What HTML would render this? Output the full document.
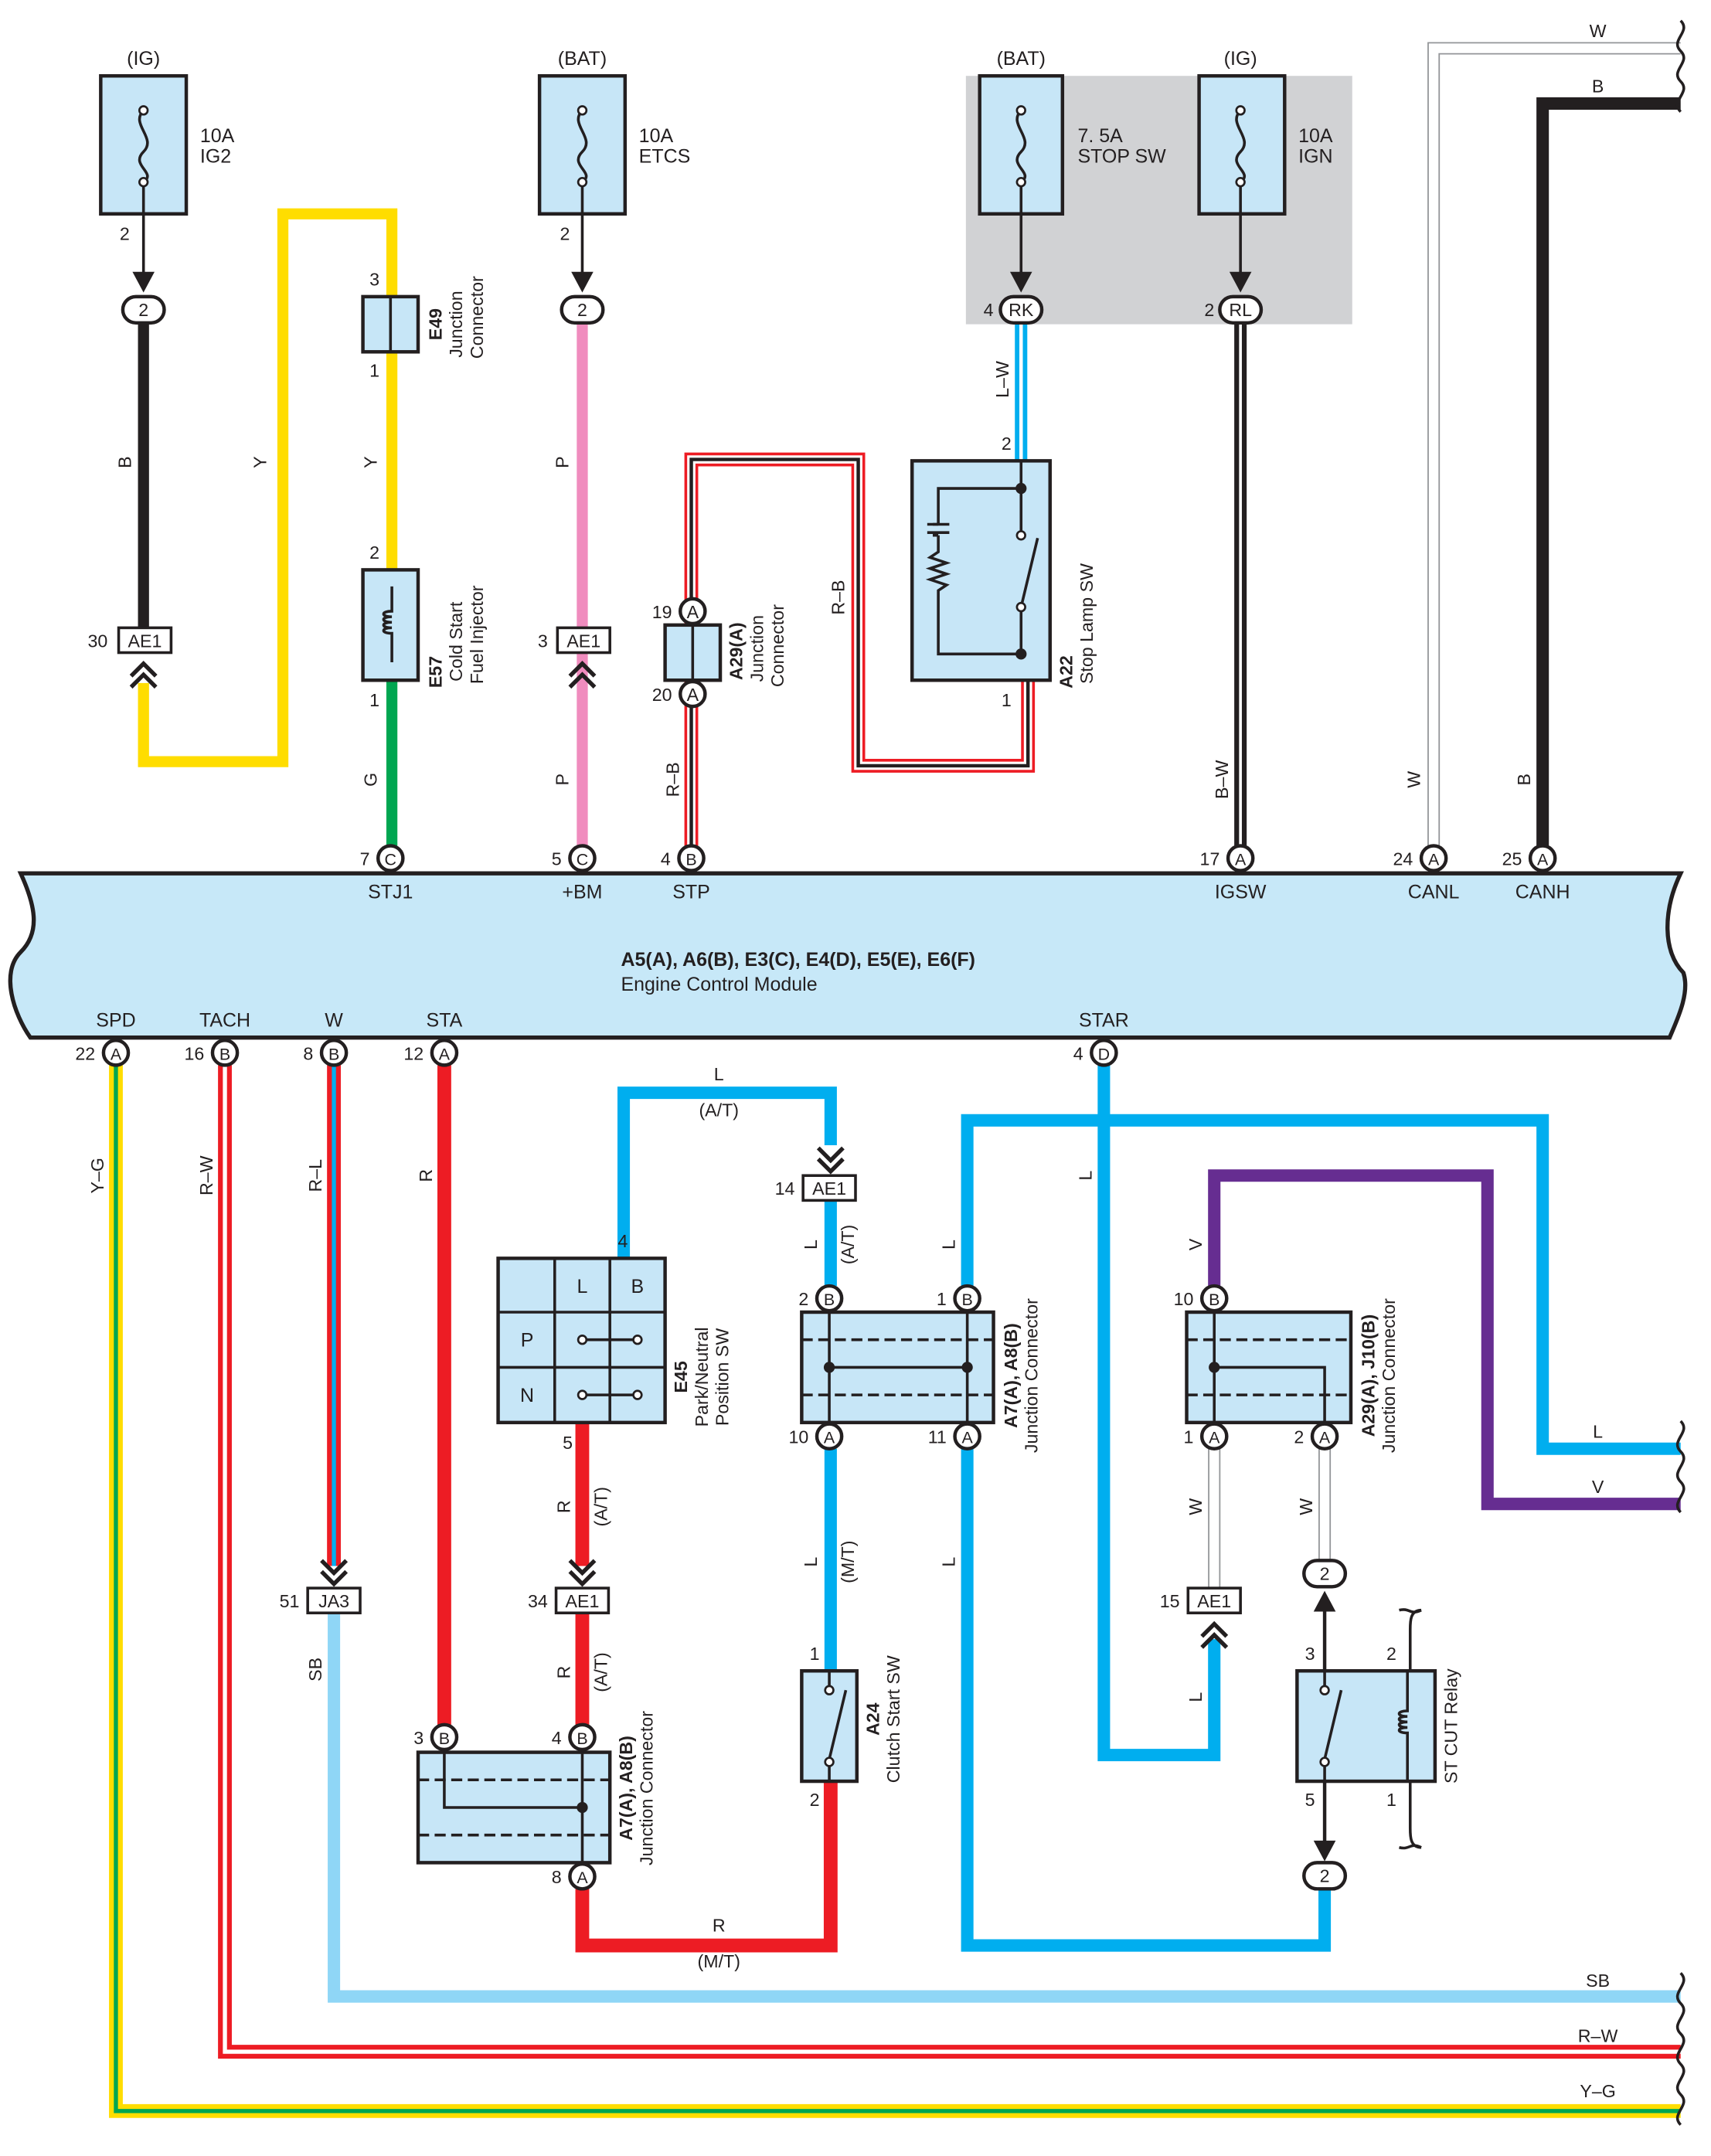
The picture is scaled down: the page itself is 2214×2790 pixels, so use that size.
<!DOCTYPE html>
<html><head><meta charset="utf-8"><style>
html,body{margin:0;padding:0;background:#fff}
svg{display:block}
text{font-family:"Liberation Sans",sans-serif;fill:#231f20}
</style></head><body>
<svg width="2214" height="2790" viewBox="0 0 1240 1562.6" xmlns="http://www.w3.org/2000/svg">
<defs>
<g id="chev"><polyline points="-9,-14 0,-5 9,-14" fill="none" stroke="#231f20" stroke-width="3"/><polyline points="-9,-6 0,3 9,-6" fill="none" stroke="#231f20" stroke-width="3"/></g>
<g id="chevu"><polyline points="-9,14 0,5 9,14" fill="none" stroke="#231f20" stroke-width="3"/><polyline points="-9,6 0,-3 9,6" fill="none" stroke="#231f20" stroke-width="3"/></g>
</defs>
<g font-size="13">
<!-- gray region -->
<rect x="700" y="55" width="280" height="180" fill="#d1d2d4"/>

<!-- ===== TOP WIRES ===== -->
<!-- IG2 black -->
<line x1="104" y1="234" x2="104" y2="455" stroke="#231f20" stroke-width="8"/>
<!-- yellow -->
<polyline points="104,495 104,552 205,552 205,155 284,155 284,413" fill="none" stroke="#ffdd00" stroke-width="8"/>
<line x1="284" y1="493" x2="284" y2="613" stroke="#00a651" stroke-width="8"/>
<!-- pink -->
<line x1="422" y1="234" x2="422" y2="613" stroke="#f08cbe" stroke-width="8"/>
<!-- R-B -->
<g fill="none">
<polyline points="501,613 501,333 622,333 622,555 745,555 745,493" stroke="#ed1c24" stroke-width="10"/>
<polyline points="501,613 501,333 622,333 622,555 745,555 745,493" stroke="#fff" stroke-width="6"/>
<polyline points="501,613 501,333 622,333 622,555 745,555 745,493" stroke="#231f20" stroke-width="2.5"/>
</g>
<!-- L-W -->
<line x1="740" y1="234" x2="740" y2="334" stroke="#00aeef" stroke-width="9"/>
<line x1="740" y1="234" x2="740" y2="334" stroke="#fff" stroke-width="2.5"/>
<!-- B-W -->
<line x1="899" y1="234" x2="899" y2="613" stroke="#231f20" stroke-width="9"/>
<line x1="899" y1="234" x2="899" y2="613" stroke="#fff" stroke-width="2"/>
<!-- W -->
<polyline points="1039,613 1039,35 1218,35" fill="none" stroke="#939598" stroke-width="9"/>
<polyline points="1039,613 1039,35 1218,35" fill="none" stroke="#fff" stroke-width="7"/>
<!-- B -->
<polyline points="1118,613 1118,75 1218,75" fill="none" stroke="#231f20" stroke-width="9"/>

<!-- fuses -->
<g stroke="#231f20" stroke-width="2.5" fill="#c7e6f7">
<rect x="73" y="55" width="62" height="100"/><rect x="391" y="55" width="62" height="100"/>
<rect x="710" y="55" width="60" height="100"/><rect x="869" y="55" width="62" height="100"/>
</g>
<g stroke="#231f20" stroke-width="2" fill="none">
<path d="M104,80 c-10,10 10,20 0,30 c-10,10 10,15 0,22 M104,132 V205"/>
<path d="M422,80 c-10,10 10,20 0,30 c-10,10 10,15 0,22 M422,132 V205"/>
<path d="M740,80 c-10,10 10,20 0,30 c-10,10 10,15 0,22 M740,132 V205"/>
<path d="M899,80 c-10,10 10,20 0,30 c-10,10 10,15 0,22 M899,132 V205"/>
</g>
<g fill="#fff" stroke="#231f20" stroke-width="1.5"><circle cx="104" cy="80" r="3"/><circle cx="104" cy="132" r="3"/><circle cx="422" cy="80" r="3"/><circle cx="422" cy="132" r="3"/><circle cx="740" cy="80" r="3"/><circle cx="740" cy="132" r="3"/><circle cx="899" cy="80" r="3"/><circle cx="899" cy="132" r="3"/></g>
<g fill="#231f20"><path d="M96,197 L104,212 L112,197 Z"/><path d="M414,197 L422,212 L430,197 Z"/><path d="M732,197 L740,212 L748,197 Z"/><path d="M891,197 L899,212 L907,197 Z"/></g>
<!-- oval connectors top -->
<g fill="#fff" stroke="#231f20" stroke-width="2.5"><rect x="89" y="215" width="30" height="19" rx="9.5"/><rect x="407" y="215" width="30" height="19" rx="9.5"/><rect x="725" y="215" width="30" height="19" rx="9.5"/><rect x="884" y="215" width="30" height="19" rx="9.5"/></g>
<text x="104" y="229" text-anchor="middle">2</text><text x="422" y="229" text-anchor="middle">2</text><text x="740" y="229" text-anchor="middle">RK</text><text x="899" y="229" text-anchor="middle">RL</text>
<text x="104" y="47" text-anchor="middle" font-size="14">(IG)</text><text x="422" y="47" text-anchor="middle" font-size="14">(BAT)</text><text x="740" y="47" text-anchor="middle" font-size="14">(BAT)</text><text x="899" y="47" text-anchor="middle" font-size="14">(IG)</text>
<text x="145" y="103" font-size="14">10A</text><text x="145" y="118" font-size="14">IG2</text>
<text x="463" y="103" font-size="14">10A</text><text x="463" y="118" font-size="14">ETCS</text>
<text x="781" y="103" font-size="14">7. 5A</text><text x="781" y="118" font-size="14">STOP SW</text>
<text x="941" y="103" font-size="14">10A</text><text x="941" y="118" font-size="14">IGN</text>
<text x="94" y="174" text-anchor="end">2</text><text x="413" y="174" text-anchor="end">2</text>
<text x="720" y="229" text-anchor="end">4</text><text x="880" y="229" text-anchor="end">2</text>

<!-- AE1 top -->
<g fill="#fff" stroke="#231f20" stroke-width="2"><rect x="86" y="455" width="38" height="18"/><rect x="404" y="455" width="38" height="18"/></g>
<text x="105" y="469" text-anchor="middle">AE1</text><text x="423" y="469" text-anchor="middle">AE1</text>
<text x="78" y="469" text-anchor="end">30</text><text x="397" y="469" text-anchor="end">3</text>
<use href="#chevu" x="104" y="484"/><use href="#chevu" x="422" y="484"/>

<!-- E49 -->
<rect x="263" y="215" width="40" height="40" fill="#c7e6f7" stroke="#231f20" stroke-width="2.5"/>
<line x1="283" y1="215" x2="283" y2="255" stroke="#231f20" stroke-width="2"/>
<text x="275" y="207" text-anchor="end">3</text><text x="275" y="273" text-anchor="end">1</text>
<!-- E57 -->
<rect x="263" y="413" width="40" height="80" fill="#c7e6f7" stroke="#231f20" stroke-width="2.5"/>
<path d="M284,425 V443 c-8,0 -8,4 0,4 c-8,0 -8,4 0,4 c-8,0 -8,4 0,4 c-8,0 -8,4 0,4 V480" fill="none" stroke="#231f20" stroke-width="2"/>
<text x="275" y="405" text-anchor="end">2</text><text x="275" y="512" text-anchor="end">1</text>
<!-- A29(A) -->
<rect x="482" y="453" width="40" height="40" fill="#c7e6f7" stroke="#231f20" stroke-width="2.5"/>
<line x1="502" y1="453" x2="502" y2="493" stroke="#231f20" stroke-width="2"/>
<!-- Stop lamp SW -->
<rect x="661" y="334" width="100" height="159" fill="#c7e6f7" stroke="#231f20" stroke-width="2.5"/>
<g fill="none" stroke="#231f20" stroke-width="2">
<path d="M740,334 V354 H680 V380 M740,354 V388 M740,440 V474 H680 V445 M740,440 L752,390 M680,380 H676 M680,388 H676"/>
<path d="M672,380 H688 M672,386 H688 M680,388 V400 l-6,4 l12,4 l-12,4 l12,4 l-12,4 l12,4 l-6,4 V445"/>
</g>
<g fill="#231f20"><circle cx="740" cy="354" r="4"/><circle cx="740" cy="474" r="4"/></g>
<g fill="#fff" stroke="#231f20" stroke-width="1.5"><circle cx="740" cy="388" r="3"/><circle cx="740" cy="440" r="3"/></g>
<text x="733" y="326" text-anchor="end">2</text><text x="733" y="512" text-anchor="end">1</text>

<!-- vertical labels top -->
<g font-size="13">
<text transform="translate(95,335) rotate(-90)" text-anchor="middle">B</text>
<text transform="translate(193,335) rotate(-90)" text-anchor="middle">Y</text>
<text transform="translate(273,335) rotate(-90)" text-anchor="middle">Y</text>
<text transform="translate(273,565) rotate(-90)" text-anchor="middle">G</text>
<text transform="translate(412,335) rotate(-90)" text-anchor="middle">P</text>
<text transform="translate(412,565) rotate(-90)" text-anchor="middle">P</text>
<text transform="translate(492,565) rotate(-90)" text-anchor="middle">R–B</text>
<text transform="translate(612,433) rotate(-90)" text-anchor="middle">R–B</text>
<text transform="translate(731,275) rotate(-90)" text-anchor="middle">L–W</text>
<text transform="translate(890,565) rotate(-90)" text-anchor="middle">B–W</text>
<text transform="translate(1029,565) rotate(-90)" text-anchor="middle">W</text>
<text transform="translate(1109,565) rotate(-90)" text-anchor="middle">B</text>
<text transform="translate(320,235) rotate(-90)" text-anchor="middle" font-weight="bold">E49</text>
<text transform="translate(335,235) rotate(-90)" text-anchor="middle">Junction</text>
<text transform="translate(350,230) rotate(-90)" text-anchor="middle">Connector</text>
<text transform="translate(320,487) rotate(-90)" text-anchor="middle" font-weight="bold">E57</text>
<text transform="translate(335,465) rotate(-90)" text-anchor="middle">Cold Start</text>
<text transform="translate(350,460) rotate(-90)" text-anchor="middle">Fuel Injector</text>
<text transform="translate(538,472) rotate(-90)" text-anchor="middle" font-weight="bold">A29(A)</text>
<text transform="translate(553,470) rotate(-90)" text-anchor="middle">Junction</text>
<text transform="translate(568,468) rotate(-90)" text-anchor="middle">Connector</text>
<text transform="translate(777,487) rotate(-90)" text-anchor="middle" font-weight="bold">A22</text>
<text transform="translate(792,452) rotate(-90)" text-anchor="middle">Stop Lamp SW</text>
</g>
<g fill="#fff" stroke="#231f20" stroke-width="2.5"><circle cx="502" cy="443" r="9"/><circle cx="502" cy="503" r="9"/></g>
<text x="502" y="448" text-anchor="middle">A</text><text x="502" y="508" text-anchor="middle">A</text>
<text x="487" y="448" text-anchor="end">19</text><text x="487" y="508" text-anchor="end">20</text>

<!-- ===== ECM ===== -->
<path d="M15,633 H1218 C1205,660 1205,690 1220,705 C1225,720 1215,740 1210,752 H22 C10,735 0,705 15,690 C30,675 25,655 15,633 Z" fill="#c7e8f8" stroke="#231f20" stroke-width="3"/>
<text x="450" y="700" font-size="14" font-weight="bold">A5(A), A6(B), E3(C), E4(D), E5(E), E6(F)</text>
<text x="450" y="718" font-size="14">Engine Control Module</text>
<g font-size="14" text-anchor="middle">
<text x="283" y="651">STJ1</text><text x="422" y="651">+BM</text><text x="501" y="651">STP</text><text x="899" y="651">IGSW</text><text x="1039" y="651">CANL</text><text x="1118" y="651">CANH</text>
<text x="84" y="744">SPD</text><text x="163" y="744">TACH</text><text x="242" y="744">W</text><text x="322" y="744">STA</text><text x="800" y="744">STAR</text>
</g>

<!-- ===== BOTTOM WIRES ===== -->
<g fill="none">
<polyline points="84,772 84,1530 1218,1530" stroke="#ffdd00" stroke-width="10"/>
<polyline points="84,772 84,1530 1218,1530" stroke="#00a651" stroke-width="3"/>
<polyline points="163,772 163,1487 1218,1487" stroke="#ed1c24" stroke-width="10"/>
<polyline points="163,772 163,1487 1218,1487" stroke="#fff" stroke-width="3"/>
<line x1="242" y1="772" x2="242" y2="1135" stroke="#ed1c24" stroke-width="10"/>
<line x1="242" y1="772" x2="242" y2="1135" stroke="#00aeef" stroke-width="3"/>
<polyline points="242,1169 242,1447 1218,1447" stroke="#8fd6f6" stroke-width="9"/>
<line x1="322" y1="772" x2="322" y2="1250" stroke="#ed1c24" stroke-width="10"/>
<polyline points="452,912 452,792 602,792 602,830" stroke="#00aeef" stroke-width="9"/>
<line x1="602" y1="870" x2="602" y2="932" stroke="#00aeef" stroke-width="9"/>
<line x1="602" y1="1050" x2="602" y2="1211" stroke="#00aeef" stroke-width="9"/>
<polyline points="602,1291 602,1410 422,1410 422,1369" stroke="#ed1c24" stroke-width="10"/>
<line x1="422" y1="1031" x2="422" y2="1135" stroke="#ed1c24" stroke-width="10"/>
<line x1="422" y1="1169" x2="422" y2="1250" stroke="#ed1c24" stroke-width="10"/>
<polyline points="701,932 701,812 1118,812 1118,1050 1218,1050" stroke="#00aeef" stroke-width="9"/>
<polyline points="701,1050 701,1410 960,1410 960,1369" stroke="#00aeef" stroke-width="9"/>
<polyline points="800,772 800,1272 880,1272 880,1188" stroke="#00aeef" stroke-width="9"/>
<polyline points="880,932 880,852 1078,852 1078,1090 1218,1090" stroke="#662d91" stroke-width="9"/>
<line x1="880" y1="1050" x2="880" y2="1151" stroke="#939598" stroke-width="9"/>
<line x1="880" y1="1050" x2="880" y2="1151" stroke="#fff" stroke-width="7"/>
<line x1="960" y1="1050" x2="960" y2="1131" stroke="#939598" stroke-width="9"/>
<line x1="960" y1="1050" x2="960" y2="1131" stroke="#fff" stroke-width="7"/>
<line x1="960" y1="1291" x2="960" y2="1340" stroke="#231f20" stroke-width="2.5"/>
<line x1="960" y1="1160" x2="960" y2="1211" stroke="#231f20" stroke-width="2.5"/>
</g>
<path d="M952,1168 L960,1153 L968,1168 Z" fill="#231f20"/>
<path d="M952,1334 L960,1349 L968,1334 Z" fill="#231f20"/>

<!-- wavy ends -->
<g fill="none" stroke="#231f20" stroke-width="2">
<path d="M1218,15 c8,8 -8,14 0,22 c8,8 -8,14 0,22 c8,8 -8,14 0,22"/>
<path d="M1218,1030 c8,8 -8,14 0,22 c8,8 -8,14 0,22 c8,8 -8,14 0,22"/>
<path d="M1218,1430 c8,8 -8,14 0,22 c8,8 -8,14 0,22 c8,8 -8,14 0,22 c8,8 -8,14 0,22 c8,8 -8,14 0,22"/>
<path d="M1030,1167 c-8,0 -8,8 -8,14 V1325 c0,6 0,14 8,14"/>
<path d="M1030,1167 c-8,4 -8,-2 -16,0 M1030,1339 c-8,-4 -8,2 -16,0"/>
</g>

<!-- P/N switch -->
<g stroke="#231f20" stroke-width="2.5" fill="#c7e6f7">
<rect x="361" y="912" width="121" height="119"/>
</g>
<g stroke="#231f20" stroke-width="2" fill="none">
<path d="M402,912 V1031 M442,912 V1031 M361,951 H482 M361,991 H482"/>
<path d="M422,971 H462 M422,1011 H462"/>
</g>
<g fill="#fff" stroke="#231f20" stroke-width="1.5"><circle cx="422" cy="971" r="3"/><circle cx="462" cy="971" r="3"/><circle cx="422" cy="1011" r="3"/><circle cx="462" cy="1011" r="3"/></g>
<text x="422" y="937" text-anchor="middle" font-size="14">L</text><text x="462" y="937" text-anchor="middle" font-size="14">B</text>
<text x="382" y="976" text-anchor="middle" font-size="14">P</text><text x="382" y="1016" text-anchor="middle" font-size="14">N</text>
<text x="455" y="904" text-anchor="end">4</text><text x="415" y="1050" text-anchor="end">5</text>

<!-- junction boxes -->
<g stroke="#231f20" stroke-width="2.5" fill="#c7e6f7">
<rect x="581" y="951" width="139" height="80"/><rect x="860" y="951" width="119" height="80"/><rect x="303" y="1270" width="139" height="80"/>
<rect x="581" y="1211" width="40" height="80"/><rect x="940" y="1211" width="100" height="80"/>
</g>
<g stroke="#231f20" stroke-width="2" fill="none">
<path d="M581,971 H720 M581,1011 H720" stroke-dasharray="8,4"/>
<path d="M860,971 H979 M860,1011 H979" stroke-dasharray="8,4"/>
<path d="M303,1290 H442 M303,1330 H442" stroke-dasharray="8,4"/>
<path d="M601,951 V1031 M701,951 V1031 M601,991 H701"/>
<path d="M880,951 V1031 M960,1031 V1011 M880,991 H960 V1011"/>
<path d="M322,1270 V1310 H422 M422,1270 V1350"/>
<path d="M601,1211 V1225 M601,1277 V1291 M601,1275 L613,1225"/>
<path d="M960,1211 V1225 M960,1277 V1291 M960,1275 L972,1225 M1020,1211 V1240 c-8,0 -8,4 0,4 c-8,0 -8,4 0,4 c-8,0 -8,4 0,4 c-8,0 -8,4 0,4 V1291"/>
</g>
<g fill="#231f20"><circle cx="601" cy="991" r="4"/><circle cx="701" cy="991" r="4"/><circle cx="880" cy="991" r="4"/><circle cx="422" cy="1310" r="4"/></g>
<g fill="#fff" stroke="#231f20" stroke-width="1.5"><circle cx="601" cy="1225" r="3"/><circle cx="601" cy="1277" r="3"/><circle cx="960" cy="1225" r="3"/><circle cx="960" cy="1277" r="3"/></g>
<text x="594" y="1203" text-anchor="end">1</text><text x="594" y="1309" text-anchor="end">2</text>
<text x="953" y="1203" text-anchor="end">3</text><text x="953" y="1309" text-anchor="end">5</text>
<text x="1012" y="1203" text-anchor="end">2</text><text x="1012" y="1309" text-anchor="end">1</text>

<!-- AE1/JA3 bottom -->
<g fill="#fff" stroke="#231f20" stroke-width="2"><rect x="582" y="852" width="38" height="18"/><rect x="223" y="1151" width="38" height="18"/><rect x="403" y="1151" width="38" height="18"/><rect x="861" y="1151" width="38" height="18"/></g>
<text x="601" y="866" text-anchor="middle">AE1</text><text x="242" y="1165" text-anchor="middle">JA3</text><text x="422" y="1165" text-anchor="middle">AE1</text><text x="880" y="1165" text-anchor="middle">AE1</text>
<text x="576" y="866" text-anchor="end">14</text><text x="217" y="1165" text-anchor="end">51</text><text x="397" y="1165" text-anchor="end">34</text><text x="855" y="1165" text-anchor="end">15</text>
<use href="#chev" x="602" y="846"/><use href="#chev" x="242" y="1145"/><use href="#chev" x="422" y="1145"/><use href="#chevu" x="880" y="1180"/>

<!-- ovals bottom -->
<g fill="#fff" stroke="#231f20" stroke-width="2.5"><rect x="945" y="1131" width="30" height="19" rx="9.5"/><rect x="945" y="1350" width="30" height="19" rx="9.5"/></g>
<text x="960" y="1145" text-anchor="middle">2</text><text x="960" y="1364" text-anchor="middle">2</text>

<!-- connector circles -->
<g fill="#fff" stroke="#231f20" stroke-width="2.5">
<circle cx="283" cy="622" r="9"/><circle cx="422" cy="622" r="9"/><circle cx="501" cy="622" r="9"/><circle cx="899" cy="622" r="9"/><circle cx="1039" cy="622" r="9"/><circle cx="1118" cy="622" r="9"/>
<circle cx="84" cy="763" r="9"/><circle cx="163" cy="763" r="9"/><circle cx="242" cy="763" r="9"/><circle cx="322" cy="763" r="9"/><circle cx="800" cy="763" r="9"/>
<circle cx="601" cy="941" r="9"/><circle cx="701" cy="941" r="9"/><circle cx="601" cy="1041" r="9"/><circle cx="701" cy="1041" r="9"/>
<circle cx="880" cy="941" r="9"/><circle cx="880" cy="1041" r="9"/><circle cx="960" cy="1041" r="9"/>
<circle cx="322" cy="1259" r="9"/><circle cx="422" cy="1259" r="9"/><circle cx="422" cy="1360" r="9"/>
</g>
<g text-anchor="middle" font-size="12">
<text x="283" y="627">C</text><text x="422" y="627">C</text><text x="501" y="627">B</text><text x="899" y="627">A</text><text x="1039" y="627">A</text><text x="1118" y="627">A</text>
<text x="84" y="768">A</text><text x="163" y="768">B</text><text x="242" y="768">B</text><text x="322" y="768">A</text><text x="800" y="768">D</text>
<text x="601" y="946">B</text><text x="701" y="946">B</text><text x="601" y="1046">A</text><text x="701" y="1046">A</text>
<text x="880" y="946">B</text><text x="880" y="1046">A</text><text x="960" y="1046">A</text>
<text x="322" y="1264">B</text><text x="422" y="1264">B</text><text x="422" y="1365">A</text>
</g>
<g text-anchor="end" font-size="13">
<text x="268" y="627">7</text><text x="407" y="627">5</text><text x="486" y="627">4</text><text x="884" y="627">17</text><text x="1024" y="627">24</text><text x="1103" y="627">25</text>
<text x="69" y="768">22</text><text x="148" y="768">16</text><text x="227" y="768">8</text><text x="307" y="768">12</text><text x="785" y="768">4</text>
<text x="586" y="946">2</text><text x="686" y="946">1</text><text x="586" y="1046">10</text><text x="686" y="1046">11</text>
<text x="865" y="946">10</text><text x="865" y="1046">1</text><text x="945" y="1046">2</text>
<text x="307" y="1264">3</text><text x="407" y="1264">4</text><text x="407" y="1365">8</text>
</g>

<!-- bottom labels -->
<g font-size="13">
<text x="1158" y="27" text-anchor="middle">W</text><text x="1158" y="67" text-anchor="middle">B</text>
<text x="1158" y="1042" text-anchor="middle">L</text><text x="1158" y="1082" text-anchor="middle">V</text>
<text x="1158" y="1440" text-anchor="middle">SB</text><text x="1158" y="1480" text-anchor="middle">R–W</text><text x="1158" y="1520" text-anchor="middle">Y–G</text>
<text x="521" y="783" text-anchor="middle">L</text><text x="521" y="809" text-anchor="middle">(A/T)</text>
<text x="521" y="1400" text-anchor="middle">R</text><text x="521" y="1426" text-anchor="middle">(M/T)</text>
<text transform="translate(75,852) rotate(-90)" text-anchor="middle">Y–G</text>
<text transform="translate(154,852) rotate(-90)" text-anchor="middle">R–W</text>
<text transform="translate(233,852) rotate(-90)" text-anchor="middle">R–L</text>
<text transform="translate(313,852) rotate(-90)" text-anchor="middle">R</text>
<text transform="translate(233,1210) rotate(-90)" text-anchor="middle">SB</text>
<text transform="translate(413,1092) rotate(-90)" text-anchor="middle">R</text>
<text transform="translate(440,1092) rotate(-90)" text-anchor="middle">(A/T)</text>
<text transform="translate(413,1212) rotate(-90)" text-anchor="middle">R</text>
<text transform="translate(440,1212) rotate(-90)" text-anchor="middle">(A/T)</text>
<text transform="translate(592,902) rotate(-90)" text-anchor="middle">L</text>
<text transform="translate(619,902) rotate(-90)" text-anchor="middle">(A/T)</text>
<text transform="translate(592,1132) rotate(-90)" text-anchor="middle">L</text>
<text transform="translate(619,1132) rotate(-90)" text-anchor="middle">(M/T)</text>
<text transform="translate(692,902) rotate(-90)" text-anchor="middle">L</text>
<text transform="translate(692,1132) rotate(-90)" text-anchor="middle">L</text>
<text transform="translate(791,852) rotate(-90)" text-anchor="middle">L</text>
<text transform="translate(871,902) rotate(-90)" text-anchor="middle">V</text>
<text transform="translate(871,1092) rotate(-90)" text-anchor="middle">W</text>
<text transform="translate(951,1092) rotate(-90)" text-anchor="middle">W</text>
<text transform="translate(871,1230) rotate(-90)" text-anchor="middle">L</text>
<text transform="translate(498,998) rotate(-90)" text-anchor="middle" font-weight="bold">E45</text>
<text transform="translate(513,998) rotate(-90)" text-anchor="middle">Park/Neutral</text>
<text transform="translate(528,998) rotate(-90)" text-anchor="middle">Position SW</text>
<text transform="translate(737,997) rotate(-90)" text-anchor="middle" font-weight="bold">A7(A), A8(B)</text>
<text transform="translate(752,997) rotate(-90)" text-anchor="middle">Junction Connector</text>
<text transform="translate(996,997) rotate(-90)" text-anchor="middle" font-weight="bold">A29(A), J10(B)</text>
<text transform="translate(1011,997) rotate(-90)" text-anchor="middle">Junction Connector</text>
<text transform="translate(458,1296) rotate(-90)" text-anchor="middle" font-weight="bold">A7(A), A8(B)</text>
<text transform="translate(473,1296) rotate(-90)" text-anchor="middle">Junction Connector</text>
<text transform="translate(637,1246) rotate(-90)" text-anchor="middle" font-weight="bold">A24</text>
<text transform="translate(652,1246) rotate(-90)" text-anchor="middle">Clutch Start SW</text>
<text transform="translate(1056,1251) rotate(-90)" text-anchor="middle">ST CUT Relay</text>
</g>
</g>
</svg>
</body></html>
